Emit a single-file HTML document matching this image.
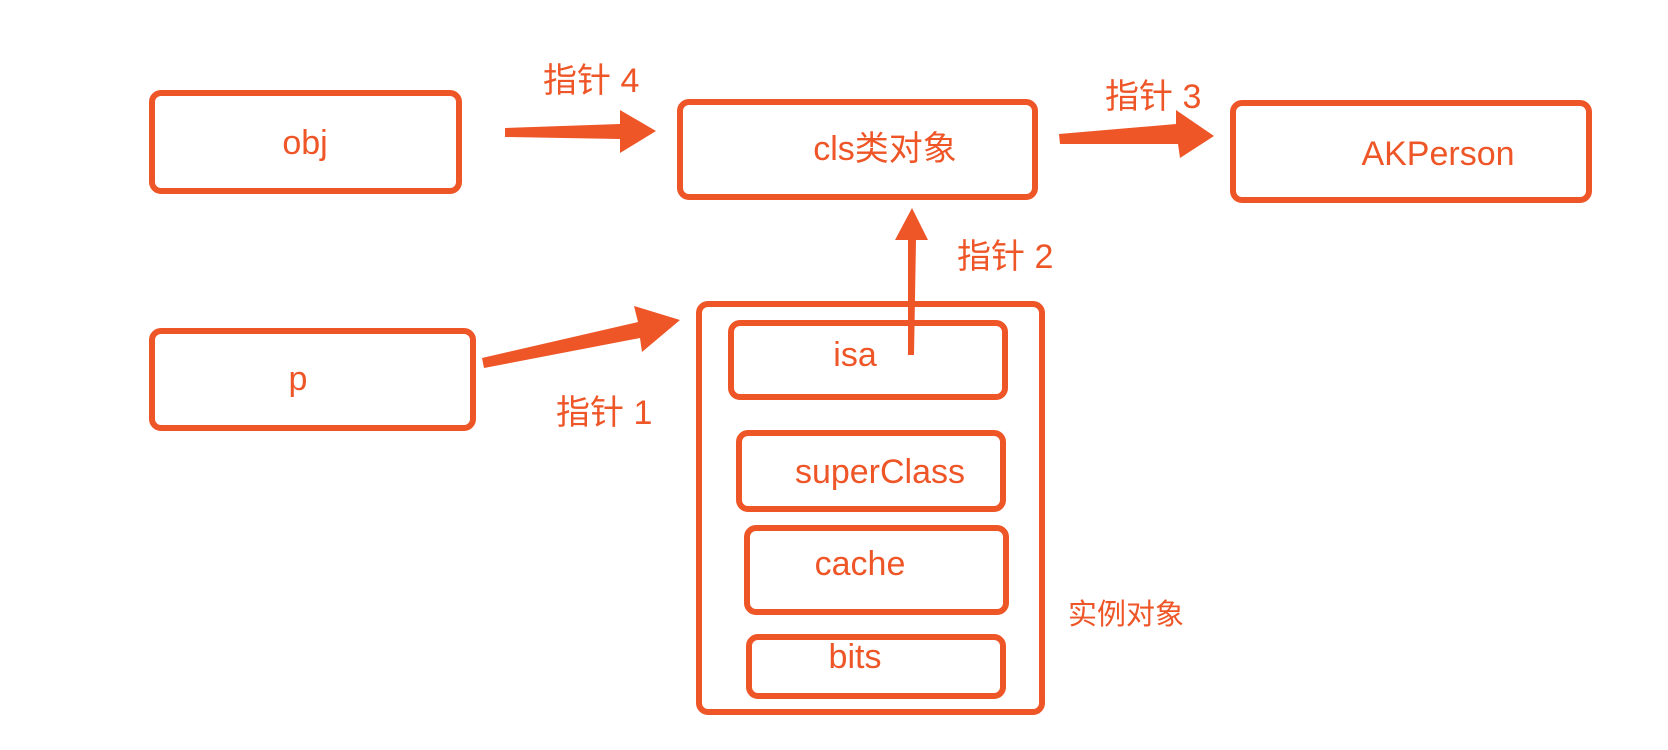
<!DOCTYPE html>
<html><head><meta charset="utf-8"><style>
html,body{margin:0;padding:0;background:#fff;}
svg{display:block}
text{font-family:"Liberation Sans","Noto Sans CJK SC",sans-serif;fill:#ee5527;}
</style></head><body>
<svg width="1668" height="750" viewBox="0 0 1668 750" xmlns="http://www.w3.org/2000/svg">
<g fill="none" stroke="#ee5527" stroke-width="6">
<rect x="152" y="93" width="307" height="98" rx="9"/>
<rect x="680" y="102" width="355" height="95" rx="9"/>
<rect x="1233" y="103" width="356" height="97" rx="9"/>
<rect x="152" y="331" width="321" height="97" rx="9"/>
<rect x="699" y="304" width="343" height="408" rx="9"/>
<rect x="731" y="323" width="274" height="74" rx="9"/>
<rect x="739" y="433" width="264" height="76" rx="9"/>
<rect x="747" y="528" width="259" height="84" rx="9"/>
<rect x="749" y="637" width="254" height="59" rx="9"/>
</g>
<g fill="#ee5527">
<polygon points="505,128 620,124 620,110 656,131 620,153 620,139 505,137"/>
<polygon points="1059,134 1176,124 1176,110 1214,136 1180,158 1178,144 1060,144"/>
<polygon points="908,355 908,240 895,240 912,208 928,240 916,240 914,355"/>
<polygon points="482,358 638,322 634,306 680,320 642,352 640,338 484,368"/>
</g>
<g font-size="34" text-anchor="middle">
<text x="305" y="154">obj</text>
<text x="885" y="160">cls类对象</text>
<text x="1438" y="165">AKPerson</text>
<text x="298" y="390">p</text>
<text x="855" y="366">isa</text>
<text x="880" y="483">superClass</text>
<text x="860" y="575">cache</text>
<text x="855" y="668">bits</text>
</g>
<g font-size="34">
<text x="543" y="92">指针 4</text>
<text x="1105" y="108">指针 3</text>
<text x="957" y="268">指针 2</text>
<text x="556" y="424">指针 1</text>
</g>
<text x="1068" y="624" font-size="29">实例对象</text>
</svg>
</body></html>
